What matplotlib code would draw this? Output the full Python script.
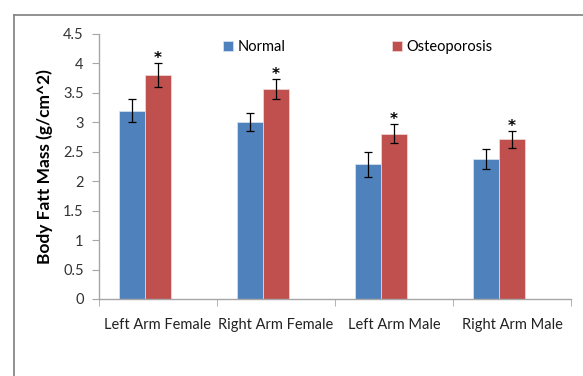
import numpy as np
from matplotlib import pyplot as plt
from matplotlib.lines import Line2D

plt.rcParams['font.family'] = ['Lato', 'DejaVu Sans']

# data
groups = ["Left Arm Female", "Right Arm Female", "Left Arm Male", "Right Arm Male"]
normal = [3.20, 3.00, 2.29, 2.37]
normal_err = [0.19, 0.15, 0.21, 0.17]
osteo = [3.80, 3.56, 2.81, 2.71]
osteo_err = [0.20, 0.17, 0.16, 0.15]
yticks = [0, 0.5, 1, 1.5, 2, 2.5, 3, 3.5, 4, 4.5]

blue = "#4F81BD"
red = "#C0504D"
axis_grey = "#A6A6A6"

fig = plt.figure(figsize=(5.83, 3.76), dpi=100)
ax = fig.add_axes([0.1698, 0.2048, 0.8096, 0.7048])

x = np.arange(len(groups))
w = 0.22
# bars sit left of the category centre (as in the original spreadsheet chart)
ax.bar(x - w, normal, w, color=blue, edgecolor="#DCE6F2", linewidth=0.5, label="Normal",
       yerr=normal_err, error_kw=dict(ecolor="black", elinewidth=0.9, capsize=3, capthick=0.9))
ax.bar(x, osteo, w, color=red, edgecolor="#F2DCDB", linewidth=0.5, label="Osteoporosis",
       yerr=osteo_err, error_kw=dict(ecolor="black", elinewidth=0.9, capsize=3, capthick=0.9))

# significance marks
for i in range(len(groups)):
    ax.text(x[i], osteo[i] + osteo_err[i] - 0.05, "*", ha="center", va="bottom",
            fontsize=11, fontweight="bold", family="DejaVu Sans")

ax.set_xlim(-0.5, len(groups) - 0.5)
ax.set_ylim(0, 4.5)
ax.set_yticks(yticks)
ax.set_yticklabels([("%g" % v) for v in yticks], fontsize=10.5, color="#333333")
ax.set_xticks(x)
ax.set_xticklabels(groups, fontsize=10.5, color="#222222")
ax.set_xticks(np.arange(-0.5, len(groups)), minor=True)
ax.tick_params(axis="x", which="major", length=0, pad=14)
ax.tick_params(axis="x", which="minor", length=5, color=axis_grey, direction="out")
ax.tick_params(axis="y", length=5, color=axis_grey, direction="out", pad=6)

for s in ["top", "right"]:
    ax.spines[s].set_visible(False)
for s in ["left", "bottom"]:
    ax.spines[s].set_color(axis_grey)
    ax.spines[s].set_linewidth(1)

ax.set_ylabel("Body Fatt Mass (g/cm^2)", fontsize=12.5, fontweight="bold", labelpad=7)

ax.legend(loc="upper left", bbox_to_anchor=(0.25, 1.0), ncol=2, frameon=False,
          fontsize=10.5, handlelength=0.7, handleheight=0.7, handletextpad=0.3,
          columnspacing=7.3, borderaxespad=0.0)

# outer frame
fig.add_artist(Line2D([0.024, 0.024], [0.0, 0.960], color="#7F7F7F", linewidth=1.2))
fig.add_artist(Line2D([0.024, 1.0], [0.960, 0.960], color="#7F7F7F", linewidth=1.2))

fig.savefig("out.png", dpi=100)
